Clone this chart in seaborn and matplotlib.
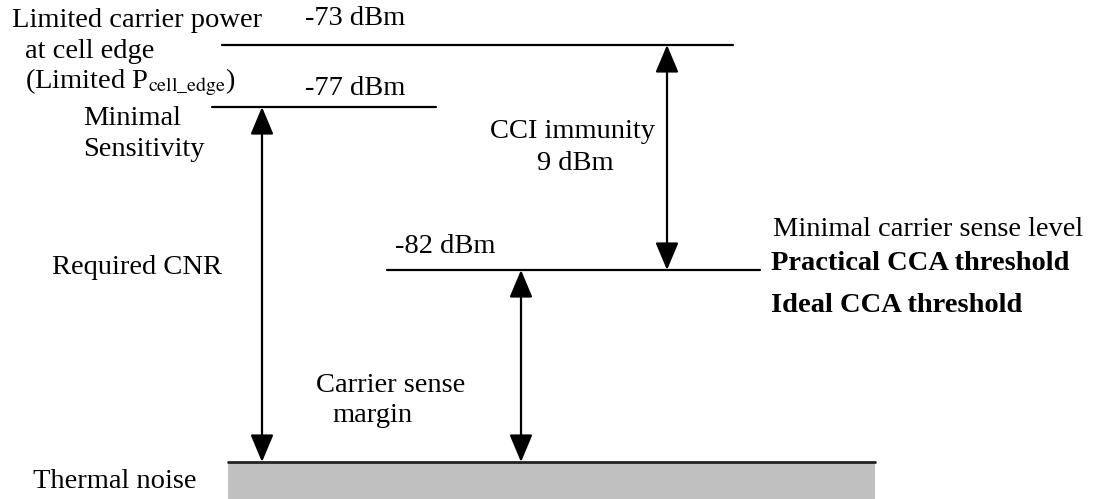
import matplotlib
import matplotlib.pyplot as plt
import pandas as pd
import seaborn as sns

# ── 数据：各电平（示意图坐标，y 向下） ──
level_names = ["-73 dBm", "-77 dBm", "-82 dBm"]
level_y = [45, 107, 270]
level_x0 = [222, 212, 387]
level_x1 = [733, 436, 760]
label_xy = [(355, 18), (355, 88), (445, 246)]

noise_y = 462
noise_x = (228, 875)

# 双向箭头: (x, y_top, y_bottom)
arrow_x = [262, 521, 667]
arrow_top = [107, 270, 45]
arrow_bottom = [462, 462, 270]

sns.set_style("white")
plt.rcParams["font.family"] = ["Liberation Serif", "DejaVu Serif"]
plt.rcParams["mathtext.fontset"] = "stix"
plt.rcParams["text.color"] = "black"

fig = plt.figure(figsize=(10.98, 4.99), dpi=100)
ax = fig.add_axes([0, 0, 1, 1])
ax.set_xlim(0, 1098)
ax.set_ylim(499, 0)
ax.axis("off")

# 电平线
rows = []
for name, y, x0, x1 in zip(level_names, level_y, level_x0, level_x1):
    rows.append({"level": name, "x": x0, "y": y})
    rows.append({"level": name, "x": x1, "y": y})
df = pd.DataFrame(rows)
sns.lineplot(data=df, x="x", y="y", units="level", estimator=None,
             color="black", linewidth=1.6, ax=ax, sort=False)
ax.set_xlim(0, 1098)
ax.set_ylim(499, 0)

fs = 20.5
for name, (tx, ty) in zip(level_names, label_xy):
    ax.text(tx, ty, name, ha="center", va="center", fontsize=fs)

# 热噪声底
ax.add_patch(plt.Rectangle((noise_x[0], noise_y), noise_x[1] - noise_x[0], 499 - noise_y,
                           facecolor="#c0c0c0", edgecolor="none"))
ax.plot(noise_x, [noise_y, noise_y], color="#222222", linewidth=2)

# 箭头
for x, yt, yb in zip(arrow_x, arrow_top, arrow_bottom):
    ax.annotate("", xy=(x, yt), xytext=(x, yb),
                arrowprops=dict(arrowstyle="<|-|>,head_length=1.0,head_width=0.42",
                                color="black", lw=1.6, mutation_scale=17,
                                shrinkA=0, shrinkB=0))

ax.text(12, 20, "Limited carrier power", fontsize=fs, va="center")
ax.text(25, 51, "at cell edge", fontsize=fs, va="center")
ax.text(25, 82, r"(Limited P$_{\mathrm{cell\_edge}}$)", fontsize=fs, va="center")
ax.text(83, 118, "Minimal", fontsize=fs, va="center")
ax.text(83, 150, "Sensitivity", fontsize=fs, va="center")
ax.text(52, 268, "Required CNR", fontsize=fs, va="center")
ax.text(573, 132, "CCI immunity", fontsize=fs, va="center", ha="center")
ax.text(575, 164, "9 dBm", fontsize=fs, va="center", ha="center")
ax.text(773, 230, "Minimal carrier sense level", fontsize=fs, va="center")
ax.text(771, 264, "Practical CCA threshold", fontsize=fs, va="center", fontweight="bold")
ax.text(771, 306, "Ideal CCA threshold", fontsize=fs, va="center", fontweight="bold")
ax.text(316, 386, "Carrier sense", fontsize=fs, va="center")
ax.text(332, 416, "margin", fontsize=fs, va="center")
ax.text(33, 481, "Thermal noise", fontsize=fs, va="center")

fig.savefig("out.png", dpi=100)
